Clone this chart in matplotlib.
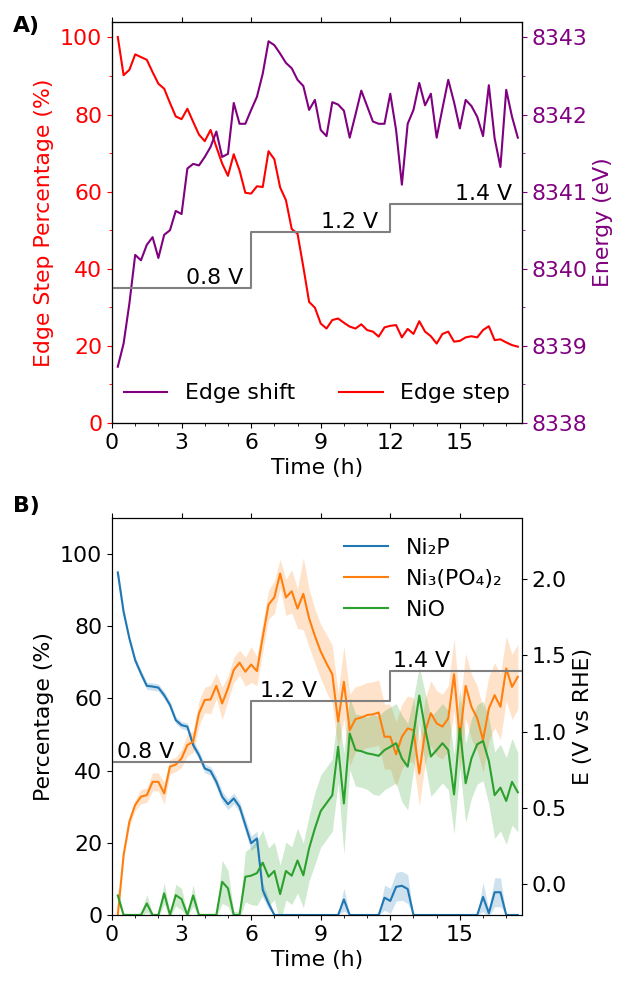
import numpy as np
import matplotlib
matplotlib.use("Agg")
from matplotlib import pyplot as plt
from matplotlib.ticker import MultipleLocator

plt.rcParams['font.size'] = 15.8

# sampling times (h), one spectrum every 15 min
time_h = np.arange(1, 71) * 0.25

# A) edge step (%) and edge energy (eV)
edge_step = [100.1, 90.2, 91.6, 95.6, 94.9, 94.2, 91.0, 88.0, 86.7, 83.0,
             79.5, 78.8, 81.5, 78.1, 74.8, 73.1, 76.0, 71.6, 67.3, 64.1,
             69.7, 65.5, 59.7, 59.5, 61.4, 61.2, 70.5, 68.4, 61.1, 57.8,
             50.3, 49.1, 40.5, 31.4, 29.9, 25.8, 24.5, 26.7, 27.1, 26.0,
             25.0, 24.5, 25.6, 24.1, 23.7, 22.4, 24.8, 25.2, 25.4, 22.2,
             24.4, 23.1, 26.4, 23.7, 22.5, 20.6, 23.1, 23.7, 21.1, 21.3,
             22.2, 22.5, 22.2, 24.1, 25.1, 21.5, 21.7, 20.9, 20.2, 19.8]

edge_energy = [8338.73, 8339.03, 8339.55, 8340.18, 8340.11, 8340.31, 8340.41, 8340.14, 8340.44, 8340.50,
               8340.75, 8340.71, 8341.30, 8341.36, 8341.34, 8341.45, 8341.58, 8341.78, 8341.45, 8341.49,
               8342.15, 8341.88, 8341.88, 8342.06, 8342.23, 8342.53, 8342.95, 8342.90, 8342.79, 8342.67,
               8342.60, 8342.45, 8342.37, 8342.06, 8342.19, 8341.80, 8341.72, 8342.16, 8342.13, 8342.05,
               8341.70, 8342.00, 8342.31, 8342.11, 8341.91, 8341.88, 8341.88, 8342.27, 8341.80, 8341.09,
               8341.88, 8342.06, 8342.41, 8342.12, 8342.27, 8341.70, 8342.08, 8342.45, 8342.16, 8341.82,
               8342.19, 8342.11, 8341.97, 8341.72, 8342.38, 8341.69, 8341.32, 8342.32, 8341.97, 8341.70]

# B) LCF fractions (%) and their uncertainties
ni2p = [94.9, 84.0, 76.6, 70.6, 66.9, 63.5, 63.3, 63.0, 60.9, 58.2,
        54.0, 52.6, 52.2, 47.1, 44.3, 40.6, 39.9, 36.9, 32.8, 30.7,
        32.3, 30.0, 24.9, 19.9, 21.2, 6.9, 3.2, 0, 0, 0,
        0, 0, 0, 0, 0, 0, 0, 0, 0, 4.3,
        0, 0, 0, 0, 0, 0, 4.8, 3.9, 7.8, 8.1,
        7.2, 0, 0, 0, 0, 0, 0, 0, 0, 0,
        0, 0, 0, 5.0, 0.5, 6.3, 6.3, 0, 0, 0]

ni3po42 = [0, 16.6, 25.9, 30.5, 32.8, 33.2, 36.9, 36.9, 33.7, 41.1,
           41.7, 43.4, 47.1, 48.0, 55.9, 59.6, 59.7, 63.5, 58.6, 62.8,
           67.9, 69.9, 67.4, 69.4, 67.6, 77.0, 86.0, 88.0, 94.6, 88.0,
           89.7, 84.9, 89.0, 82.2, 77.3, 73.0, 69.7, 66.7, 53.6, 64.6,
           51.2, 54.3, 54.7, 55.4, 55.6, 56.1, 49.4, 49.4, 44.5, 49.4,
           51.7, 51.2, 39.2, 50.8, 55.9, 53.1, 52.2, 54.5, 66.7, 48.9,
           63.5, 57.7, 54.5, 48.5, 57.2, 60.9, 57.7, 68.3, 63.2, 66.0]

nio = [5.4, 0, 0, 0, 0, 3.2, 0, 0, 6.0, 0,
       5.5, 4.4, 0, 5.4, 0, 0, 0, 0, 9.2, 7.4,
       0, 0, 10.6, 10.9, 11.6, 14.5, 10.6, 12.2, 5.8, 12.2,
       10.9, 15.1, 11.0, 18.5, 24.0, 28.8, 31.0, 33.2, 46.6, 30.9,
       50.3, 45.7, 45.4, 44.8, 44.5, 44.1, 45.7, 46.6, 47.6, 43.4,
       41.1, 50.0, 60.8, 51.7, 43.9, 45.7, 47.6, 45.7, 33.4, 51.7,
       36.5, 43.4, 47.3, 48.2, 42.7, 33.2, 35.3, 31.6, 36.9, 34.0]

ni2p_err = [1.5, 1.2, 1.0, 1.0, 1.0, 1.0, 1.0, 1.0, 1.0, 1.0,
            1.0, 1.0, 1.0, 1.2, 1.2, 1.2, 1.2, 1.5, 1.5, 1.5,
            1.5, 1.5, 1.8, 2.0, 2.0, 2.0, 1.5, 0, 0, 0,
            0, 0, 0, 0, 0, 0, 0, 0, 0, 3.2,
            0, 0, 0, 0, 0, 0, 3.5, 3.5, 4.0, 4.0,
            4.0, 0, 0, 0, 0, 0, 0, 0, 0, 0,
            0, 0, 0, 4.0, 1.0, 4.0, 4.0, 0, 0, 0]

ni3po42_err = [0.5, 1.0, 1.5, 1.5, 2.0, 2.0, 2.5, 2.5, 3.0, 2.0,
               2.0, 2.5, 3.0, 3.0, 3.5, 3.5, 4.0, 3.5, 4.5, 3.5,
               3.5, 3.5, 4.0, 5.0, 4.0, 4.0, 4.0, 4.5, 4.0, 5.0,
               6.0, 5.5, 10.0, 8.0, 7.5, 7.5, 8.0, 8.0, 8.0, 10.0,
               10.0, 9.0, 9.0, 9.0, 9.0, 9.0, 9.0, 9.0, 9.0, 9.0,
               9.0, 9.0, 9.0, 9.0, 9.0, 9.0, 9.0, 9.0, 10.0, 9.0,
               9.0, 9.0, 9.0, 9.0, 9.0, 9.0, 9.0, 9.0, 9.0, 9.0]

nio_err = [2.0, 0.5, 0.5, 0.5, 0.5, 2.5, 0.5, 0.5, 3.0, 0.5,
           3.0, 3.0, 0.5, 3.0, 0.5, 0.5, 0.5, 0.5, 6.0, 5.0,
           1.0, 1.0, 7.0, 8.0, 9.0, 9.0, 8.0, 8.0, 8.0, 8.0,
           8.0, 9.0, 9.0, 9.0, 10.0, 10.0, 10.0, 10.0, 10.0, 14.0,
           10.0, 10.0, 10.0, 10.0, 11.0, 11.0, 11.0, 11.0, 11.0, 12.0,
           12.0, 10.0, 8.0, 10.0, 11.0, 11.0, 11.0, 11.0, 11.0, 11.0,
           11.0, 11.0, 11.0, 11.0, 12.0, 12.0, 12.0, 12.0, 12.0, 11.0]

# applied potential program
step_time = [0, 6, 12, 17.7]
step_voltage = [0.8, 1.2, 1.4, 1.4]
step_labels = ["0.8 V", "1.2 V", "1.4 V"]

xmax = 17.68

fig = plt.figure(figsize=(6.29, 9.83), dpi=100)
axA = fig.add_axes([112/629, 1-423/983, 410/629, 401/983])
axB = fig.add_axes([112/629, 1-915/983, 410/629, 397/983])

# ---------------- A) ----------------
l_step, = axA.plot(time_h, edge_step, color='red', lw=1.5, label='Edge step')
axA.set_xlim(0, xmax)
axA.set_ylim(0, 104)
axA.set_ylabel('Edge Step Percentage (%)', color='red')
axA.set_xlabel('Time (h)')
axA.tick_params(axis='y', which='both', colors='red')
axA.yaxis.set_minor_locator(MultipleLocator(10))
axA.xaxis.set_major_locator(MultipleLocator(3))
axA.xaxis.set_minor_locator(MultipleLocator(1))
axA.tick_params(axis='x', which='major', top=True)

axA2 = axA.twinx()
l_shift, = axA2.plot(time_h, edge_energy, color='purple', lw=1.5, label='Edge shift')
axA2.set_ylim(8338, 8343.2)
axA2.set_ylabel('Energy (eV)', color='purple')
axA2.tick_params(axis='y', which='both', colors='purple')
axA2.yaxis.set_major_locator(MultipleLocator(1))
axA2.yaxis.set_minor_locator(MultipleLocator(0.5))
axA2.ticklabel_format(axis='y', useOffset=False)

axA3 = axA.twinx()
axA3.plot(step_time, step_voltage, drawstyle='steps-post', color='grey', lw=1.5)
axA3.set_ylim(-0.17, 2.71)
axA3.set_yticks([])
for x, v, s in zip([5.65, 11.47, 17.25], step_voltage, step_labels):
    axA3.text(x, v, s, ha='right', va='bottom')
axA3.legend([l_shift, l_step], ['Edge shift', 'Edge step'], loc='lower center',
            ncol=2, frameon=False)

# ---------------- B) ----------------
t = np.array(time_h)
for y, e, c, lab in [(ni2p, ni2p_err, 'tab:blue', 'Ni\u2082P'),
                     (ni3po42, ni3po42_err, 'tab:orange', 'Ni\u2083(PO\u2084)\u2082'),
                     (nio, nio_err, 'tab:green', 'NiO')]:
    y = np.array(y)
    e = np.array(e)
    axB.plot(t, y, color=c, lw=1.5, label=lab)
    axB.fill_between(t, y - e, y + e, color=c, alpha=0.22, lw=0)

axB.set_xlim(0, xmax)
axB.set_ylim(0, 110)
axB.set_ylabel('Percentage (%)')
axB.set_xlabel('Time (h)')
axB.xaxis.set_major_locator(MultipleLocator(3))
axB.xaxis.set_minor_locator(MultipleLocator(1))
axB.tick_params(axis='x', which='major', top=True)

axB2 = axB.twinx()
axB2.plot(step_time, step_voltage, drawstyle='steps-post', color='grey', lw=1.5)
axB2.set_ylim(-0.2, 2.4)
axB2.yaxis.set_major_locator(MultipleLocator(0.5))
axB2.set_ylabel('E (V vs RHE)')
for x, v, s in zip([0.2, 6.38, 12.1], step_voltage, step_labels):
    axB2.text(x, v, s, ha='left', va='bottom')
h, l = axB.get_legend_handles_labels()
axB2.legend(h, l, loc='upper right', frameon=False)

fig.text(13/629, 1-16/983, 'A)', fontweight='bold', va='top')
fig.text(13/629, 1-496/983, 'B)', fontweight='bold', va='top')

plt.savefig("out.png")
